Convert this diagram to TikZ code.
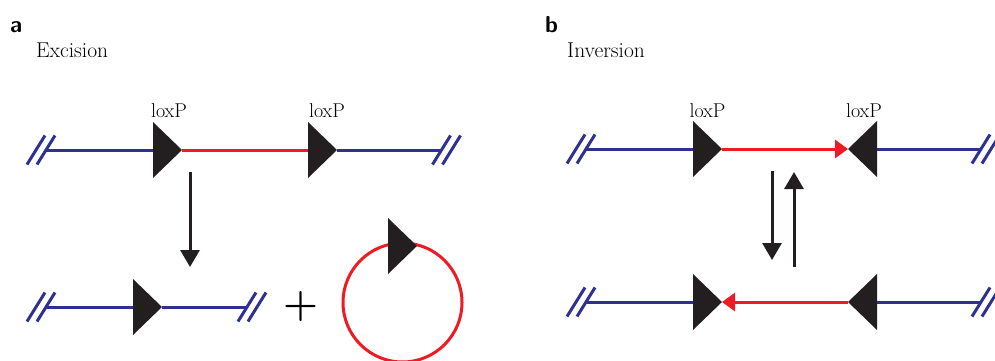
\documentclass[tikz,border=0pt]{standalone}
\usepackage{fontspec}
\usepackage{tikz}
\usetikzlibrary{arrows.meta,shapes.geometric}
\definecolor{dnablue}{RGB}{46,49,146}
\definecolor{crered}{RGB}{237,28,36}
\definecolor{loxblack}{RGB}{35,31,32}

\begin{document}
\begin{tikzpicture}[
    x=1pt, y=-1pt,
    every node/.style={font=\fontsize{20}{22}\selectfont, inner sep=0pt},
    dna/.style={draw=dnablue, line width=3pt},
    insert/.style={draw=crered, line width=3pt},
    lox/.style={isosceles triangle, isosceles triangle stretches, fill=loxblack, minimum height=29pt, minimum width=56pt, outer sep=0pt, anchor=apex},
    loxR/.style={lox},
    loxL/.style={lox, shape border rotate=180},
    site/.style={anchor=base},
    arr/.style={-{Triangle[width=19pt,length=17pt]}, line width=3pt, draw=loxblack},
    redtip/.style={-{Triangle[width=18pt,length=13pt]}},
    panel/.style={font=\fontsize{23}{25}\selectfont\sffamily\bfseries, anchor=base west},
    title/.style={font=\fontsize{21.5}{24}\selectfont, anchor=base west},
    dnacut/.pic={\foreach \d in {-5,5} \draw[dnablue, line width=3pt] (\d-9,14.5) -- (\d+9,-14.5);}
]
\useasboundingbox (0,0) rectangle (995,361);

% a: excision
\node[panel] (pa) at (10,33) {a};
\node[title] (ta) at (36,57) {Excision};
\coordinate (a1L) at (46,150);
\coordinate (a1R) at (441,150);
\node[loxR] (a1x) at (182,150) {};
\node[loxR] (a1y) at (337,150) {};
\node[site] (la1) at (169,117) {loxP};
\node[site] (la2) at (327,117) {loxP};
\draw[dna] (a1L) -- (a1x.lower side);
\draw[insert] (a1x.apex) -- (a1y.lower side);
\draw[dna] (a1y.apex) -- (a1R);
\pic at (41,150) {dnacut};
\pic at (446.5,150) {dnacut};

\coordinate (ads) at (190,172);
\coordinate (ade) at (190,267);
\draw[arr] (ads) -- (ade);

\coordinate (a2L) at (46,307);
\coordinate (a2R) at (247,307);
\node[loxR] (a2x) at (162,307) {};
\draw[dna] (a2L) -- (a2x.lower side);
\draw[dna] (a2x.apex) -- (a2R);
\pic at (41,307) {dnacut};
\pic at (252,307) {dnacut};
\node (plus) at (301,307) {\fontsize{40}{42}\selectfont\bfseries +};
\node[circle, draw=crered, line width=3pt, minimum size=119pt] (ring) at (402.5,302.5) {};
\node[loxR] (ringx) at (417,246) {};

% b: inversion
\node[panel] (pb) at (545,33) {b};
\node[title] (tb) at (567,57) {Inversion};
\coordinate (b1L) at (586,149);
\coordinate (b1R) at (981,149);
\node[loxR] (b1x) at (722,149) {};
\node[loxL] (b1y) at (848,149) {};
\node[site] (lb1) at (707.5,117) {loxP};
\node[site] (lb2) at (864,117) {loxP};
\draw[dna] (b1L) -- (b1x.lower side);
\draw[insert, redtip] (b1x.apex) -- (b1y.apex);
\draw[dna] (b1y.lower side) -- (b1R);
\pic at (581,149) {dnacut};
\pic at (986,149) {dnacut};

\coordinate (bds) at (772,171);
\coordinate (bde) at (772,260);
\coordinate (bus) at (794,267);
\coordinate (bue) at (794,172);
\draw[arr] (bds) -- (bde);
\draw[arr] (bus) -- (bue);

\coordinate (b2L) at (586,302);
\coordinate (b2R) at (981,302);
\node[loxR] (b2x) at (722,302) {};
\node[loxL] (b2y) at (848,302) {};
\draw[dna] (b2L) -- (b2x.lower side);
\draw[insert, redtip] (b2y.apex) -- (b2x.apex);
\draw[dna] (b2y.lower side) -- (b2R);
\pic at (581,302) {dnacut};
\pic at (986,302) {dnacut};
\end{tikzpicture}
\end{document}
